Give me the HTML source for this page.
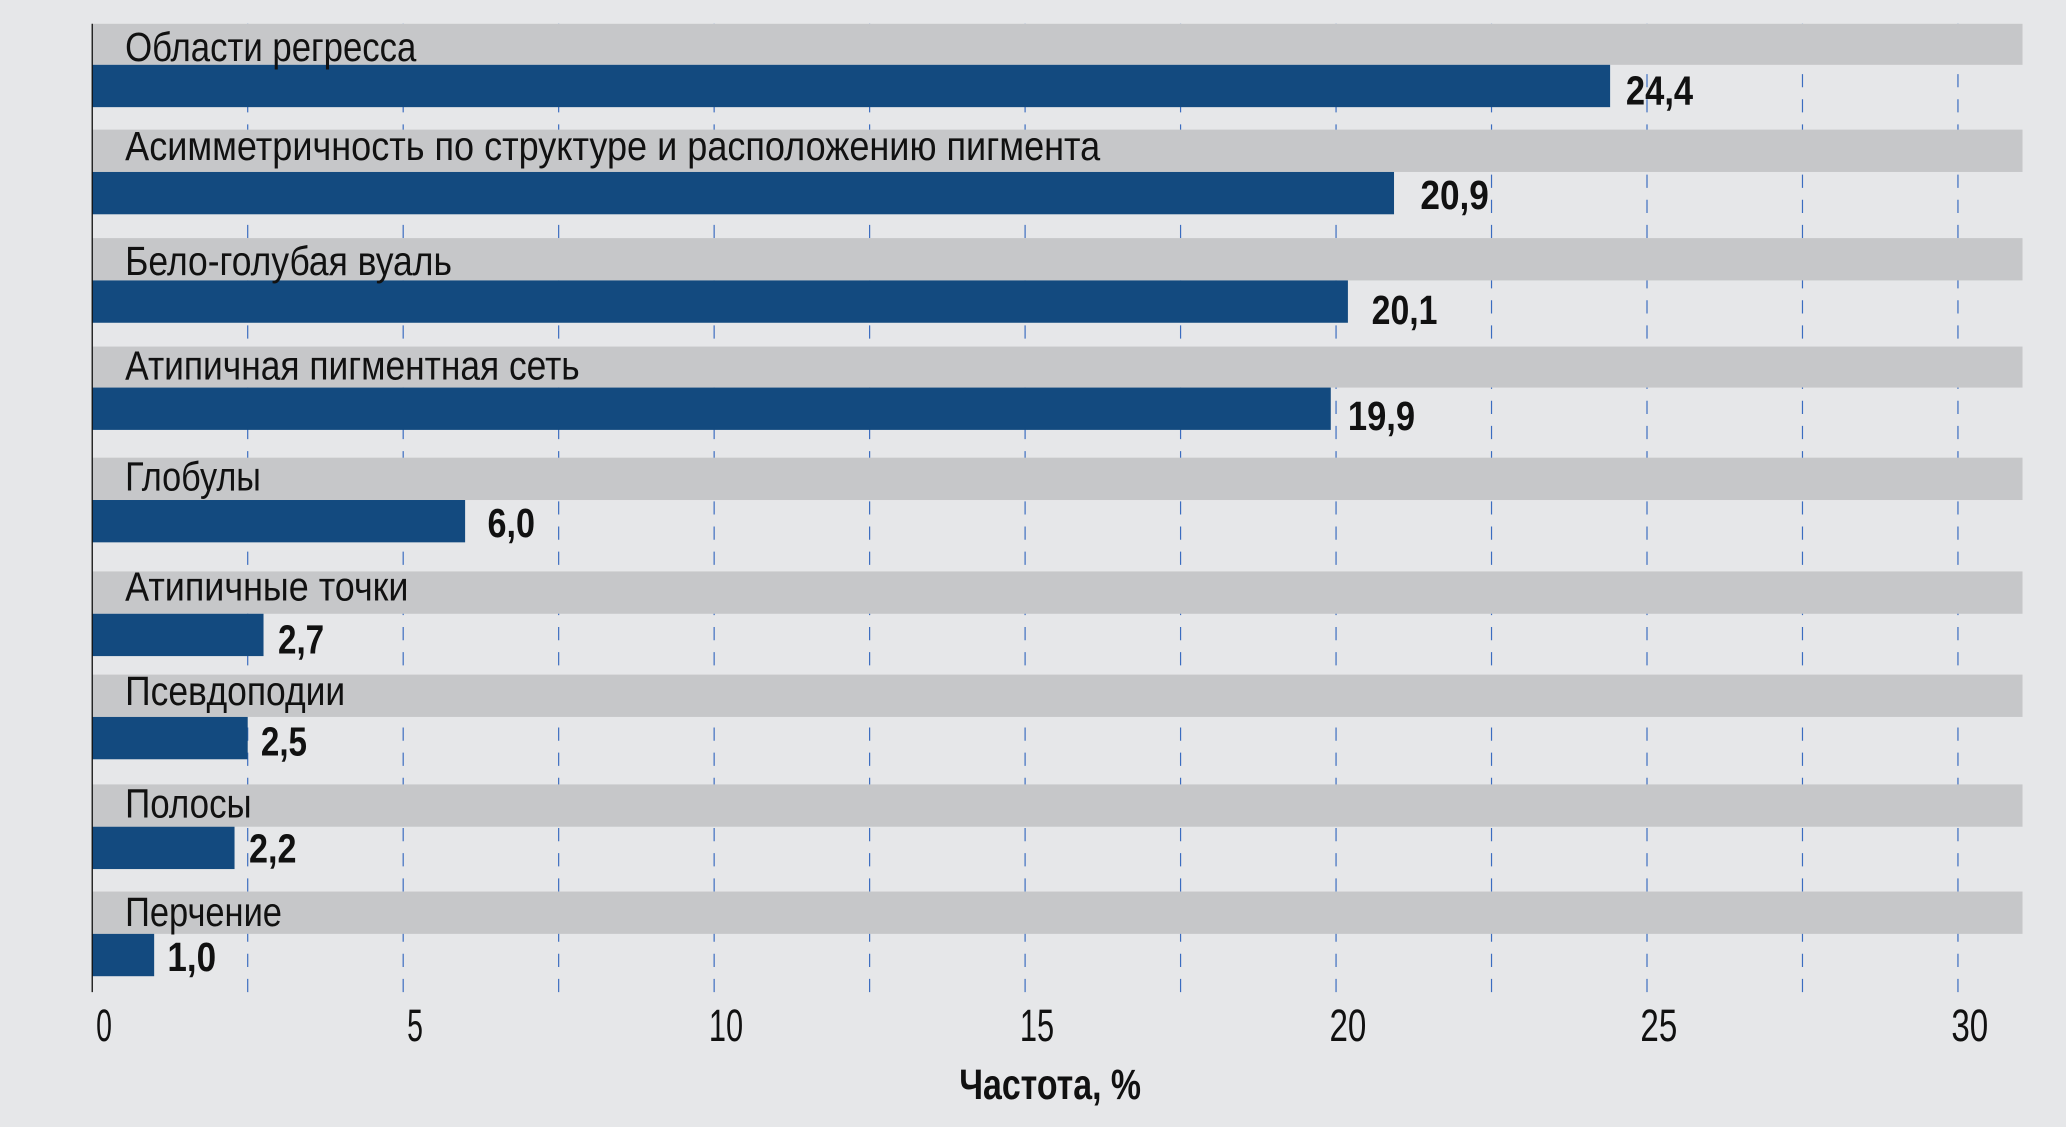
<!DOCTYPE html>
<html><head><meta charset="utf-8"><style>html,body{margin:0;padding:0;background:#e6e7e9}svg{display:block}</style></head><body>
<svg width="2066" height="1127" viewBox="0 0 1568 852" preserveAspectRatio="none" xmlns="http://www.w3.org/2000/svg" font-family="'Liberation Sans', sans-serif">
<rect width="1568" height="852" fill="#e6e7e9"/>
<g stroke="#3a6cc0" stroke-width="0.9" stroke-dasharray="10,9">
<line x1="188" y1="18" x2="188" y2="750"/><line x1="306" y1="18" x2="306" y2="750"/>
<line x1="424" y1="18" x2="424" y2="750"/><line x1="542" y1="18" x2="542" y2="750"/>
<line x1="660" y1="18" x2="660" y2="750"/><line x1="778" y1="18" x2="778" y2="750"/>
<line x1="896" y1="18" x2="896" y2="750"/><line x1="1014" y1="18" x2="1014" y2="750"/>
<line x1="1132" y1="18" x2="1132" y2="750"/><line x1="1250" y1="18" x2="1250" y2="750"/>
<line x1="1368" y1="18" x2="1368" y2="750"/><line x1="1486" y1="18" x2="1486" y2="750"/>
</g>
<g fill="#c6c7c9">
<rect x="70" y="18" width="1465" height="31"/>
<rect x="70" y="98" width="1465" height="32"/>
<rect x="70" y="180" width="1465" height="32"/>
<rect x="70" y="262" width="1465" height="31"/>
<rect x="70" y="346" width="1465" height="32"/>
<rect x="70" y="432" width="1465" height="32"/>
<rect x="70" y="510" width="1465" height="32"/>
<rect x="70" y="593" width="1465" height="32"/>
<rect x="70" y="674" width="1465" height="32"/>
</g>
<g fill="#134a7f">
<rect x="70" y="49" width="1152" height="32"/>
<rect x="70" y="130" width="988" height="32"/>
<rect x="70" y="212" width="953" height="32"/>
<rect x="70" y="293" width="940" height="32"/>
<rect x="70" y="378" width="283" height="32"/>
<rect x="70" y="464" width="130" height="32"/>
<rect x="70" y="542" width="118" height="32"/>
<rect x="70" y="625" width="108" height="32"/>
<rect x="70" y="706" width="47" height="32"/>
</g>
<line x1="70" y1="18" x2="70" y2="750" stroke="#111" stroke-width="1"/>
<g font-size="31" fill="#111">
<text x="95" y="46" textLength="221" lengthAdjust="spacingAndGlyphs">Области регресса</text>
<text x="95" y="121" textLength="740" lengthAdjust="spacingAndGlyphs">Асимметричность по структуре и расположению пигмента</text>
<text x="95" y="208" textLength="248" lengthAdjust="spacingAndGlyphs">Бело-голубая вуаль</text>
<text x="95" y="287" textLength="345" lengthAdjust="spacingAndGlyphs">Атипичная пигментная сеть</text>
<text x="95" y="371" textLength="103" lengthAdjust="spacingAndGlyphs">Глобулы</text>
<text x="95" y="454" textLength="215" lengthAdjust="spacingAndGlyphs">Атипичные точки</text>
<text x="95" y="533" textLength="167" lengthAdjust="spacingAndGlyphs">Псевдоподии</text>
<text x="95" y="618" textLength="96" lengthAdjust="spacingAndGlyphs">Полосы</text>
<text x="95" y="700" textLength="119" lengthAdjust="spacingAndGlyphs">Перчение</text>
</g>
<g font-size="31" font-weight="bold" fill="#111">
<text x="1234" y="79" textLength="51" lengthAdjust="spacingAndGlyphs">24,4</text>
<text x="1078" y="158" textLength="52" lengthAdjust="spacingAndGlyphs">20,9</text>
<text x="1041" y="245" textLength="50" lengthAdjust="spacingAndGlyphs">20,1</text>
<text x="1023" y="325" textLength="51" lengthAdjust="spacingAndGlyphs">19,9</text>
<text x="370" y="406" textLength="36" lengthAdjust="spacingAndGlyphs">6,0</text>
<text x="211" y="494" textLength="35" lengthAdjust="spacingAndGlyphs">2,7</text>
<text x="198" y="571" textLength="35" lengthAdjust="spacingAndGlyphs">2,5</text>
<text x="189" y="652" textLength="36" lengthAdjust="spacingAndGlyphs">2,2</text>
<text x="127" y="734" textLength="37" lengthAdjust="spacingAndGlyphs">1,0</text>
</g>
<g font-size="34" fill="#111" text-anchor="middle">
<text x="79" y="787" textLength="12" lengthAdjust="spacingAndGlyphs">0</text>
<text x="315" y="787" textLength="12" lengthAdjust="spacingAndGlyphs">5</text>
<text x="551" y="787" textLength="26" lengthAdjust="spacingAndGlyphs">10</text>
<text x="787" y="787" textLength="26" lengthAdjust="spacingAndGlyphs">15</text>
<text x="1023" y="787" textLength="28" lengthAdjust="spacingAndGlyphs">20</text>
<text x="1259" y="787" textLength="28" lengthAdjust="spacingAndGlyphs">25</text>
<text x="1495" y="787" textLength="28" lengthAdjust="spacingAndGlyphs">30</text>
</g>
<text x="728" y="831" font-size="32" font-weight="bold" fill="#111" textLength="138" lengthAdjust="spacingAndGlyphs">Частота, %</text>
</svg>
</body></html>
